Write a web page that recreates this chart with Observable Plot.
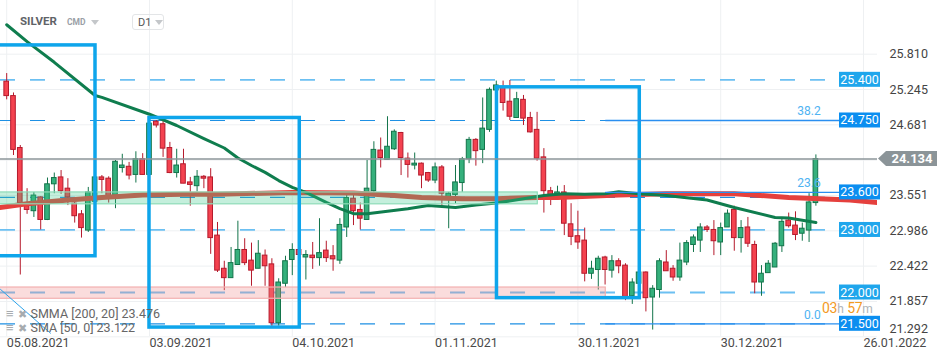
<!DOCTYPE html>
<html><head><meta charset="utf-8">
<script src="https://cdn.jsdelivr.net/npm/d3@7"></script>
<script src="https://cdn.jsdelivr.net/npm/@observablehq/plot@0.6"></script>
<style>
body{margin:0;background:#fff;font-family:Roboto,"Noto Sans",sans-serif;}
#wrap{position:relative;width:950px;height:361px;overflow:hidden;}
#wrap svg{position:absolute;left:0;top:0;}
.ov{position:absolute;white-space:nowrap;font-family:Roboto,sans-serif;}
</style></head><body><div id="wrap"></div>
<script>
// ---- candles (bar index 0 = 05.08.2021, daily bars) ----
const open  = [25.37,25.14,24.31,23.38,23.30,23.52,23.16,23.73,23.84,23.66,23.42,23.25,22.99,23.45,23.84,23.82,23.55,23.99,24.01,23.88,
               24.13,23.88,24.73,24.69,24.31,23.91,24.05,23.76,23.70,23.85,23.84,22.91,22.38,22.23,22.44,22.68,22.51,22.38,22.59,22.45,
               21.51,22.14,22.52,22.68,22.56,22.59,22.55,22.67,22.58,22.51,23.04,23.50,23.32,23.16,23.62,24.27,24.12,24.29,24.55,24.14,
               24.03,24.06,23.91,23.79,24.00,23.52,23.56,23.75,24.13,24.44,24.28,24.60,25.23,25.28,25.05,24.79,25.08,24.79,24.60,24.16,
               23.62,23.55,23.60,23.09,22.90,22.83,22.30,22.36,22.56,22.35,22.50,22.43,21.94,22.14,22.32,21.92,22.04,22.48,22.38,22.24,
               22.48,22.76,22.83,23.04,23.00,22.80,23.04,23.32,22.87,23.04,22.76,22.16,22.31,22.40,22.74,23.15,23.07,22.94,22.99,23.43];
const high  = [25.50,25.19,24.35,23.66,23.60,23.53,23.83,23.91,23.95,23.82,23.51,23.31,23.68,23.85,23.87,23.85,24.11,24.21,24.08,24.25,
               24.22,24.72,24.75,24.75,24.40,24.29,24.29,23.84,23.95,23.87,23.98,23.12,22.50,22.72,23.14,22.86,22.79,22.83,22.68,22.54,
               22.22,22.58,22.78,22.70,22.67,22.80,23.18,22.82,22.75,23.18,23.57,23.56,23.43,24.11,24.41,24.47,24.81,24.60,24.56,24.23,
               24.23,24.07,23.92,24.07,24.03,23.60,24.03,24.16,24.48,24.46,25.11,25.27,25.38,25.38,25.39,25.20,25.15,24.88,24.88,24.30,
               23.68,23.70,23.71,23.42,23.30,23.03,22.50,22.58,22.58,22.59,22.54,22.46,22.22,22.34,22.33,22.11,22.54,22.67,22.43,22.79,
               22.83,22.92,23.10,23.07,23.15,23.11,23.32,23.38,23.15,23.20,22.82,22.43,22.51,22.80,23.18,23.27,23.29,23.11,23.58,24.20];
const low   = [25.08,24.19,22.28,23.25,23.20,23.00,23.15,23.58,23.57,23.39,23.11,22.87,22.96,23.40,23.58,23.43,23.34,23.91,23.80,23.75,
               23.88,23.85,24.63,24.16,23.90,23.83,23.74,23.38,23.61,23.66,22.61,22.32,22.03,22.23,22.44,22.43,22.10,22.38,22.10,21.45,
               21.46,22.08,22.27,22.58,22.20,22.37,22.42,22.48,22.34,22.45,22.88,23.07,23.00,23.16,23.60,23.99,24.12,24.27,23.87,23.83,
               23.96,23.66,23.76,23.74,23.39,23.02,23.42,23.60,24.06,24.02,24.06,24.56,25.23,24.90,24.75,24.79,24.67,24.55,24.10,23.27,
               23.39,23.50,22.91,22.75,22.69,22.17,22.21,22.04,22.12,22.23,22.30,21.87,21.81,22.10,21.69,21.40,21.91,22.34,22.18,22.18,
               22.43,22.64,22.64,22.96,22.59,22.59,23.04,22.66,22.63,22.72,21.98,21.94,22.31,22.40,22.64,23.03,22.83,22.82,22.80,23.38];
const close = [25.14,24.28,23.43,23.32,23.55,23.16,23.73,23.83,23.62,23.52,23.22,23.03,23.60,23.84,23.80,23.53,24.09,24.03,23.87,24.13,
               23.88,24.70,24.67,24.30,23.91,24.03,23.74,23.72,23.85,23.82,22.87,22.35,22.23,22.47,22.68,22.47,22.35,22.62,22.42,21.51,
               22.16,22.50,22.68,22.60,22.60,22.55,22.63,22.55,22.53,23.08,23.51,23.30,23.18,23.66,24.28,24.15,24.33,24.57,24.15,24.04,
               24.06,23.87,23.79,24.00,23.58,23.58,23.76,24.13,24.44,24.26,24.62,25.24,25.31,25.03,24.81,25.09,24.78,24.56,24.14,23.62,
               23.54,23.60,23.10,22.89,22.80,22.30,22.38,22.54,22.36,22.50,22.42,21.93,22.16,22.32,21.91,22.06,22.50,22.34,22.24,22.51,
               22.79,22.88,23.04,23.00,22.82,23.03,23.26,22.87,23.03,22.78,22.16,22.30,22.46,22.78,23.13,23.06,22.92,23.02,23.44,24.134];

// ---- axes ----
const xTickBars   = [0, 21, 42, 63, 84, 105, 126];
const xTickLabels = ["05.08.2021","03.09.2021","04.10.2021","01.11.2021","30.11.2021","30.12.2021","26.01.2022"];
const yTicks      = [25.810, 25.245, 24.681, 24.116, 23.551, 22.986, 22.422, 21.857, 21.292];

// ---- indicators ----
const smaBars   = [0,3,7,13,14,21,25,29,32,34,36,38,40,42,44,47,49,51,53,56,59,62,66,69,72,76,79,82,85,88,90,93,97,103,107,113,115,119];
const smaValues = [26.28,26.01,25.68,25.15,25.12,24.85,24.67,24.46,24.31,24.15,24.03,23.92,23.79,23.68,23.60,23.44,23.34,23.26,23.26,23.30,
                   23.34,23.39,23.36,23.40,23.43,23.50,23.55,23.58,23.57,23.58,23.61,23.58,23.55,23.48,23.36,23.20,23.19,23.12];
const smmaBars   = [-1,3,9,14,20,26,31,42,51,57,61,67,72,78,81,90,97,107,115,124,128];
const smmaValues = [23.36,23.42,23.48,23.52,23.56,23.57,23.57,23.60,23.59,23.55,23.52,23.50,23.50,23.52,23.52,23.56,23.58,23.58,23.52,23.48,23.44];
const legendLines = ["SMMA [200, 20] 23.476", "SMA [50, 0] 23.122"];

// ---- drawings ----
const levelValues = [25.4, 24.75, 23.6, 23.0, 22.0, 21.5];
const levelDark   = [false, true, true, false, false, true];
const dashValues  = [25.4, 24.75, 23.52, 23.0, 22.0, 21.5];
const dashDark    = [false, true, true, false, false, true];
const dashEndBar  = 120.9;
const fibValues = [24.75, 23.6, 21.5];
const fibLabels = ["38.2", "23.6", "0.0"];
const fibStartBar = 88.1, fibLabelBar = 119.7;
const lastPrice = 24.134;
const boxStart = [-3, 21.0, 72.1], boxEnd = [13.06, 43.1, 93.1];
const boxTop   = [25.95, 24.79, 25.28], boxBottom = [22.58, 21.44, 21.91];
const zoneStart = [-2, -2], zoneEnd = [78.1, 88.1];
const zoneTop = [23.60, 22.08], zoneBottom = [23.41, 21.90];
const zoneFill = ["#3cc98a", "#f08a8a"], zoneStroke = ["#8edcb8", "#f3b0b0"];
const trendBars = [-0.91, 6.44], trendValues = [22.05, 21.35];

const bars = d3.range(open.length);
const up = i => close[i] >= open[i];
const levels = levelValues.map((v, k) => ({v, dark: levelDark[k]}));
const dashes = dashValues.map((v, k) => ({v, dark: dashDark[k]}));
const boxes = boxStart.map((s, k) => ({x1: s, x2: boxEnd[k], y1: boxBottom[k], y2: boxTop[k]}));
const zones = zoneStart.map((s, k) => ({x1: s, x2: zoneEnd[k], y1: zoneBottom[k], y2: zoneTop[k], fill: zoneFill[k], stroke: zoneStroke[k]}));
const fibs = fibValues.map((v, k) => ({v, label: fibLabels[k]}));
// tick labels: the one under the price tag is hidden; the bottom one is lifted to stay inside
const shownTicks = yTicks.filter(t => Math.abs(t - lastPrice) > 0.1);
const innerTicks = shownTicks.slice(0, -1), bottomTick = shownTicks.slice(-1);

function levelTags(index, scales, values, dim) {
  const g = d3.create("svg:g");
  const x0 = dim.width - dim.marginRight - 38;
  for (const l of levels) {
    const y = scales.y(l.v);
    g.append("rect").attr("x", x0).attr("y", y - 7.5).attr("width", 41).attr("height", 15)
      .attr("fill", l.dark ? "#0b8ef0" : "#1fa6ec");
    g.append("text").attr("x", x0 + 20.5).attr("y", y).attr("dy", "0.36em").attr("text-anchor", "middle")
      .attr("fill", "#fff").attr("font-size", 12.5).attr("font-family", "Roboto, sans-serif").text(d3.format(".3f")(l.v));
  }
  return g.node();
}
function priceTag(index, scales, values, dim) {
  const g = d3.create("svg:g");
  const y = scales.y(lastPrice), x0 = dim.width - dim.marginRight + 1;
  g.append("path").attr("d", `M${x0},${y}L${x0 + 8},${y - 7.5}H${x0 + 59}V${y + 7.5}H${x0 + 8}Z`).attr("fill", "#8b9498");
  g.append("text").attr("x", x0 + 34).attr("y", y).attr("dy", "0.36em").attr("text-anchor", "middle")
    .attr("fill", "#fff").attr("font-size", 13).attr("font-weight", "bold").attr("font-family", "Roboto, sans-serif")
    .text(d3.format(".3f")(lastPrice));
  return g.node();
}

const chart = Plot.plot({
  width: 950, height: 361,
  marginLeft: 0, marginRight: 73, marginTop: 0, marginBottom: 25,
  style: {fontFamily: "Roboto, sans-serif", background: "transparent", overflow: "visible"},
  x: {domain: [-0.91, 128.06], axis: null},
  y: {domain: [21.297, 26.668], axis: null},
  marks: [
    Plot.ruleY(yTicks, {stroke: "#eef0f2", strokeWidth: 1}),
    Plot.ruleX(xTickBars, {stroke: "#eef0f2", strokeWidth: 1}),
    Plot.ruleY(dashes, {y: "v", x1: -0.91, x2: dashEndBar, stroke: d => d.dark ? "#1e90e4" : "#6cc0f2",
      strokeWidth: d => d.dark ? 1.2 : 1.8, strokeDasharray: "15,15"}),
    Plot.ruleX(bars, {x: d => d, y1: i => low[i], y2: i => high[i], stroke: i => up(i) ? "#13744a" : "#b51a2c", strokeWidth: 1}),
    Plot.rect(bars, {x1: i => i - 0.34, x2: i => i + 0.34, y1: i => open[i], y2: i => close[i],
      fill: i => up(i) ? "#35b07c" : "#f4424f", stroke: i => up(i) ? "#13744a" : "#b51a2c", strokeWidth: 1}),
    Plot.line(smmaBars, {x: d => d, y: (d, k) => smmaValues[k], stroke: "#e5403d", strokeWidth: 5, clip: true}),
    Plot.line(smaBars, {x: d => d, y: (d, k) => smaValues[k], stroke: "#0f7d4e", strokeWidth: 3, clip: true}),
    Plot.rect(zones, {x1: "x1", x2: "x2", y1: "y1", y2: "y2", fill: "fill", fillOpacity: 0.3, stroke: "stroke", strokeWidth: 1.2, clip: true}),
    Plot.line(trendBars, {x: d => d, y: (d, k) => trendValues[k], stroke: "#2ba2ea", strokeWidth: 1, clip: true}),
    Plot.rect(boxes, {x1: "x1", x2: "x2", y1: "y1", y2: "y2", fill: "none", stroke: "#0ea5eb", strokeWidth: 3.5, clip: true}),
    Plot.ruleY(fibs, {y: "v", x1: fibStartBar, x2: 128.06, stroke: "#2a8ff0", strokeWidth: 1.3}),
    Plot.text(fibs, {x: fibLabelBar, y: "v", text: "label", textAnchor: "end", dy: -9, fill: "#4fb3f2", fontSize: 12}),
    Plot.ruleY([lastPrice], {x1: -0.91, x2: 128.06, stroke: "#8d969a", strokeWidth: 1.3}),
    Plot.text(innerTicks, {y: d => d, frameAnchor: "right", dx: 12, textAnchor: "start", text: d => d3.format(".3f")(d), fill: "#444", fontSize: 12.5}),
    Plot.text(bottomTick, {y: d => d, frameAnchor: "right", dx: 12, dy: -8, textAnchor: "start", text: d => d3.format(".3f")(d), fill: "#444", fontSize: 12.5}),
    Plot.text(xTickBars, {x: d => d, frameAnchor: "bottom", dy: 10, textAnchor: "start", text: (d, k) => xTickLabels[k], fill: "#4a4a4a", fontSize: 12.5}),
    levelTags,
    priceTag
  ]
});
const wrap = document.getElementById("wrap");
wrap.appendChild(chart);

// header + legend + countdown overlays
function ov(html, css) { const d = document.createElement("div"); d.className = "ov"; d.style.cssText = css; d.innerHTML = html; wrap.appendChild(d); }
ov("SILVER", "left:20px;top:14px;font-size:11.5px;font-weight:bold;color:#5f6368;");
ov("CMD", "left:67px;top:17px;font-size:8.5px;font-weight:bold;color:#9aa0a6;");
ov("", "left:91px;top:20px;width:0;height:0;border-left:4px solid transparent;border-right:4px solid transparent;border-top:5px solid #c4c7ca;");
ov("D1", "left:132px;top:14px;width:32px;height:16px;border:1px solid #e3e5e7;border-radius:3px;font-size:11px;color:#555;line-height:16px;padding-left:5px;box-sizing:border-box;");
ov("", "left:155px;top:20px;width:0;height:0;border-left:4px solid transparent;border-right:4px solid transparent;border-top:5px solid #c4c7ca;");
legendLines.forEach((t, k) => {
  ov(`<span style="color:#a7abaf;font-size:13px;">&#8801;</span> <span style="color:#a7abaf;font-size:11px;">&#10006;</span> <span style="color:#666;font-size:12.5px;">${t}</span>`,
     `left:6px;top:${305 + k * 14}px;line-height:15px;`);
});
ov(`<span style="color:#f39a1e;font-size:14px;">03</span><span style="color:#b0b4b8;font-size:12px;">h</span> <span style="color:#f39a1e;font-size:14px;">57</span><span style="color:#b0b4b8;font-size:12px;">m</span>`,
   "left:822px;top:301px;letter-spacing:-0.3px;line-height:14px;");
</script></body></html>
